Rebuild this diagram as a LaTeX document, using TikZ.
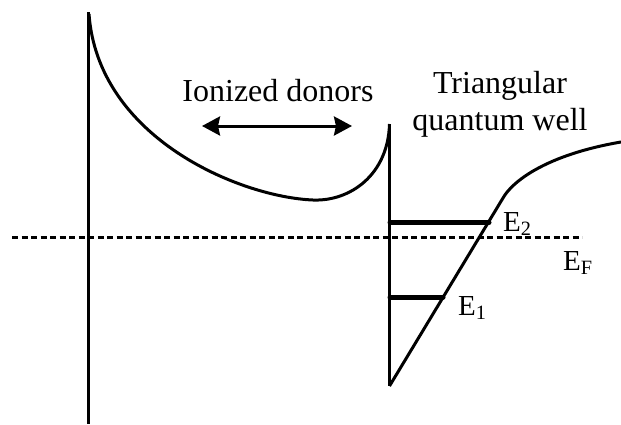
\documentclass[tikz,border=0pt]{standalone}
\usepackage{fontspec}
\setmainfont{Liberation Serif}
\usetikzlibrary{arrows.meta}
\begin{document}
\begin{tikzpicture}[x=1pt,y=-1pt,
  band/.style={line width=3pt},
  level/.style={line width=5pt,line cap=round},
  fermi/.style={line width=3pt,dash pattern=on 6pt off 3.5pt},
  lbl/.style={inner sep=0pt,font=\fontsize{32}{37}\selectfont},
  elbl/.style={inner sep=0pt,anchor=base west,font=\fontsize{29}{34}\selectfont},
  twoway/.style={line width=3pt,>={Stealth[length=18pt,width=19pt,inset=2pt]},<->}]
\useasboundingbox (0,0) rectangle (621,424);
% Fermi level
\draw[fermi] (12,237.5) -- (582,237.5);
% left barrier edge
\draw[band] (88.5,12) -- (88.5,424);
% conduction band in donor region
\draw[band] (89,14) .. controls (98,138) and (240,197) .. (313,200)
  .. controls (350,201.5) and (388,175) .. (389.5,124);
% right wall
\draw[band] (389.5,124) -- (389.5,386);
% triangular well and bulk band
\draw[band,line join=round] (389.5,386) -- (503,198)
  .. controls (512,182) and (545,155) .. (621,142);
% subband levels
\draw[level] (390,222.5) -- (489,222.5);
\draw[level] (390,297) -- (443,297);
% labels
\node[lbl,anchor=base] (donors) at (278,101) {Ionized donors};
\coordinate (al) at (202,126);
\coordinate (ar) at (352,126);
\draw[twoway] (al) -- (ar);
\node[lbl,anchor=base] (tri) at (500,93) {Triangular};
\node[lbl,anchor=base] (qw) at (500,130) {quantum well};
\node[elbl] (e2) at (503,231) {E\textsubscript{2}};
\node[elbl] (ef) at (563,270) {E\textsubscript{F}};
\node[elbl] (e1) at (458,315) {E\textsubscript{1}};
\end{tikzpicture}
\end{document}
